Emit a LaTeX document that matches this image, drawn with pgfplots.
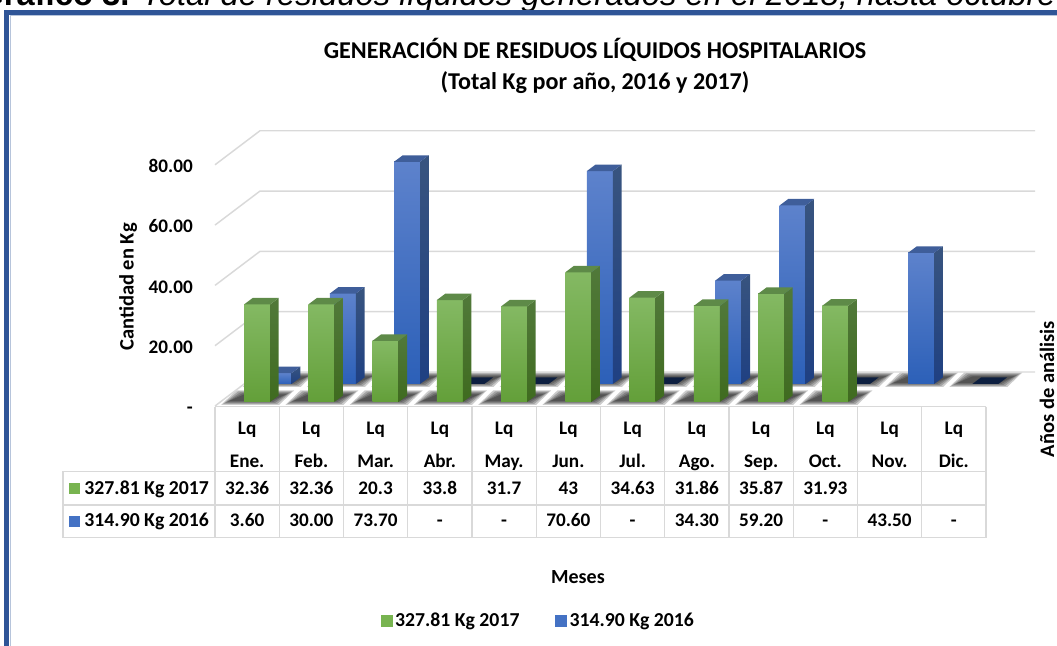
\documentclass[border=0pt]{standalone}
\usepackage{pgfplots}
\usepackage{pgfplotstable}
\usepackage{fontspec}
\pgfplotsset{compat=1.18}
\setmainfont{Carlito}
\newfontfamily\arialf{Liberation Sans}
\definecolor{frameblue}{HTML}{2F5597}
\definecolor{gridgray}{HTML}{D9D9D9}
\definecolor{keygreen}{HTML}{78B450}
\definecolor{keyblue}{HTML}{4472C4}
\tikzset{
 gfront/.style={top color=green1,middle color=green2,bottom color=green3,draw=none},
 gside/.style={top color=green4,bottom color=green5,draw=none},
 gtop/.style={fill=green6,draw=none},
 bfront/.style={top color=blue1,middle color=blue2,bottom color=blue3,draw=none},
 bside/.style={top color=blue4,bottom color=blue5,draw=none},
 btop/.style={fill=blue6,draw=none},
 bzero/.style={fill=navyz,draw=none},
 gzero/.style={fill=navyz,draw=none},
}
\definecolor{green1}{HTML}{84B963}
\definecolor{green2}{HTML}{70AD47}
\definecolor{green3}{HTML}{639F39}
\definecolor{green4}{HTML}{51793A}
\definecolor{green5}{HTML}{3F6B1F}
\definecolor{green6}{HTML}{5E8A48}
\definecolor{blue1}{HTML}{5D82CC}
\definecolor{blue2}{HTML}{3F70C6}
\definecolor{blue3}{HTML}{2C60B8}
\definecolor{blue4}{HTML}{38547F}
\definecolor{blue5}{HTML}{1F4082}
\definecolor{blue6}{HTML}{3F5E9A}
\definecolor{navyz}{HTML}{0D1F40}
\def\PXX{0.015564}
\def\PXY{0.33167}
% one table per series: month number, Kg
\pgfplotstableread{
mes v
1 32.36
2 32.36
3 20.3
4 33.8
5 31.7
6 43
7 34.63
8 31.86
9 35.87
10 31.93
}\tabA
\pgfplotstableread{
mes v
1 3.60
2 30.00
3 73.70
4 0
5 0
6 70.60
7 0
8 34.30
9 59.20
10 0
11 43.50
12 0
}\tabB
\newcommand{\onebar}[5]{%
 \pgfmathsetmacro\xl{#1-0.048+#3}%
 \pgfmathsetmacro\xr{\xl+0.405}%
 \pgfmathsetmacro\xs{\xr+0.135}%
 \pgfmathsetmacro\xk{\xl+0.135}%
 \pgfmathsetmacro\yb{#4}%
 \pgfmathsetmacro\yt{#4+#2}%
 \pgfmathsetmacro\ybb{\yb+2.156}%
 \pgfmathsetmacro\ytt{\yt+2.156}%
 \ifdim #2pt>0pt
  \addplot[#5front,forget plot] coordinates {(\xl,\yb)(\xr,\yb)(\xr,\yt)(\xl,\yt)};
  \addplot[#5side,forget plot] coordinates {(\xr,\yb)(\xs,\ybb)(\xs,\ytt)(\xr,\yt)};
  \addplot[#5top,forget plot] coordinates {(\xl,\yt)(\xr,\yt)(\xs,\ytt)(\xk,\ytt)};
 \else
  \addplot[#5zero,forget plot] coordinates {(\xl,\yt)(\xr,\yt)(\xs,\ytt)(\xk,\ytt)};
 \fi
}
% blurred floor shadow: nested translucent parallelograms
\newcommand{\shl}[4]{%
 \pgfmathsetmacro\sa{#1-0.048+#2-(19+#4)*\PXX}%
 \pgfmathsetmacro\sb{#1-0.048+#2+(31+#4)*\PXX}%
 \pgfmathsetmacro\sc{\sa+15*\PXX}%
 \pgfmathsetmacro\sd{\sb+15*\PXX}%
 \pgfmathsetmacro\se{#3-(1+0.5*#4)*\PXY}%
 \pgfmathsetmacro\sf{#3+(9.5+0.5*#4)*\PXY}%
 \addplot[fill=black,draw=none,opacity=0.2,forget plot] coordinates {(\sa,\se)(\sb,\se)(\sd,\sf)(\sc,\sf)};
}
\newcommand{\shadow}[3]{\shl{#1}{#2}{#3}{4}\shl{#1}{#2}{#3}{2}\shl{#1}{#2}{#3}{0}\shl{#1}{#2}{#3}{-2}\shl{#1}{#2}{#3}{-4}}
\newcommand{\wall}[1]{%
 \pgfmathsetmacro\wy{#1+11.28}%
 \addplot[gridgray,line width=1.1pt,forget plot] coordinates {(0.5,#1)(1.2,\wy)(13.263,\wy)};
}
\begin{document}
\begin{tikzpicture}
\begin{scope}[x=0.75pt,y=-0.75pt]
\path[use as bounding box] (0,0) rectangle (1057,646);
\node[anchor=base west,inner sep=0,font=\arialf\fontsize{24.6}{27}\selectfont] at (-22,6)
  {\textbf{Gráfico 3.} \textit{Total de residuos líquidos generados en el 2018, hasta octubre 2018}};
\draw[frameblue,line width=3.6pt] (1100,12.5) -- (6.8,12.5) -- (6.8,700);
\draw[frameblue!35,line width=0.6pt] (1100,15.6) -- (9.9,15.6) -- (9.9,700);
\end{scope}
\begin{axis}[
 at={(161.25pt,-304.5pt)},anchor=south west,
 scale only axis,width=578.25pt,height=206.25pt,
 xmin=0.5,xmax=12.5,ymin=0,ymax=91.2,clip=false,
 axis line style={draw=none},tick style={draw=none},major tick length=0pt,
 xtick={1,...,12},
 xticklabels={{Lq\\Ene.},{Lq\\Feb.},{Lq\\Mar.},{Lq\\Abr.},{Lq\\May.},{Lq\\Jun.},{Lq\\Jul.},{Lq\\Ago.},{Lq\\Sep.},{Lq\\Oct.},{Lq\\Nov.},{Lq\\Dic.}},
 xticklabel style={align=center,inner sep=0pt,yshift=-12pt,font=\bfseries\fontsize{14.4}{24.4}\selectfont},
 ytick={0,20,40,60,80},
 yticklabels={-\hspace{7.5pt},20.00,40.00,60.00,80.00},
 yticklabel style={anchor=east,inner sep=0pt,text height=9.1pt,text depth=0pt,xshift=-16.5pt,yshift=-1.2pt,font=\bfseries\fontsize{14.4}{17}\selectfont},
 title={GENERACIÓN DE RESIDUOS LÍQUIDOS HOSPITALARIOS\\(Total Kg por año, 2016 y 2017)},
 title style={at={(0.4929,1.207)},anchor=center,align=center,inner sep=0pt,font=\bfseries\fontsize{18.1}{23.4}\selectfont},
 xlabel={Meses},
 xlabel style={at={(0.4708,-0.6218)},anchor=center,inner sep=0pt,font=\bfseries\fontsize{15}{17}\selectfont},
 ylabel={Cantidad en Kg},
 ylabel style={at={(-0.1128,0.4327)},anchor=center,inner sep=0pt,font=\bfseries\fontsize{15.4}{17}\selectfont},
 legend style={at={(0.42,-0.782)},anchor=center,draw=none,fill=none,legend columns=2,inner sep=0pt,
   font=\bfseries\fontsize{14.8}{17}\selectfont,
   /tikz/every even column/.append style={column sep=25pt}},
 legend image code/.code={\fill[#1] (0pt,-4.1pt) rectangle (8.2pt,4.1pt);},
]
% floor
\addplot[fill=white,draw=none,forget plot] coordinates {(0.5,0)(12.5,0)(13.263,11.28)(1.2,11.28)(0.5,0)};
% shadows
\pgfplotsinvokeforeach{1,...,12}{\shadow{#1}{0.335}{7.3}}
\pgfplotsinvokeforeach{1,...,10}{\shadow{#1}{0}{1.33}}
% wall grid
\wall{0}\wall{20}\wall{40}\wall{60}\wall{80}
% 2016 bars behind
\pgfplotsinvokeforeach{0,...,11}{%
 \pgfplotstablegetelem{#1}{v}\of{\tabB}\let\val\pgfplotsretval
 \pgfmathtruncatemacro\mon{#1+1}%
 \onebar{\mon}{\val}{0.335}{7.3}{b}}
% 2017 bars in front
\pgfplotsinvokeforeach{0,...,9}{%
 \pgfplotstablegetelem{#1}{v}\of{\tabA}\let\val\pgfplotsretval
 \pgfmathtruncatemacro\mon{#1+1}%
 \onebar{\mon}{\val}{0}{1.33}{g}}
\addlegendimage{keygreen}\addlegendentry{327.81 Kg 2017}
\addlegendimage{keyblue}\addlegendentry{314.90 Kg 2016}
\end{axis}
\begin{scope}[x=0.75pt,y=-0.75pt,
  cell/.style={font=\bfseries\fontsize{14.4}{17}\selectfont,inner sep=0pt,anchor=center,text height=9.1pt,text depth=0pt}]
% data table
\draw[gridgray,line width=1.1pt] (63,471.7) rectangle (986,537.3);
\draw[gridgray,line width=1.1pt] (63,505) -- (986,505);
\draw[gridgray,line width=1.1pt] (215,406.7) -- (986,406.7);
\foreach \i in {0,...,12}{\draw[gridgray,line width=1.1pt] ({215+64.25*\i},406.7) -- ({215+64.25*\i},537.3);}
\node[cell,anchor=west] at (69,488) {\textcolor{keygreen}{\rule{8.2pt}{8.2pt}}\hspace{3.2pt}\fontsize{14.8}{17}\selectfont 327.81 Kg 2017};
\node[cell,anchor=west] at (69,520.7) {\textcolor{keyblue}{\rule{8.2pt}{8.2pt}}\hspace{3.2pt}\fontsize{14.8}{17}\selectfont 314.90 Kg 2016};
\foreach \i/\t in {1/32.36,2/32.36,3/20.3,4/33.8,5/31.7,6/43,7/34.63,8/31.86,9/35.87,10/31.93}
  \node[cell] at ({215+64.25*(\i-0.5)},488) {\t};
\foreach \i/\t in {1/3.60,2/30.00,3/73.70,4/-,5/-,6/70.60,7/-,8/34.30,9/59.20,10/-,11/43.50,12/-}
  \node[cell] at ({215+64.25*(\i-0.5)},520.7) {\t};
\node[rotate=90,anchor=center,inner sep=0pt,font=\bfseries\fontsize{15.4}{17}\selectfont] at (1047,389) {Años de análisis};
\end{scope}
\end{tikzpicture}
\end{document}
